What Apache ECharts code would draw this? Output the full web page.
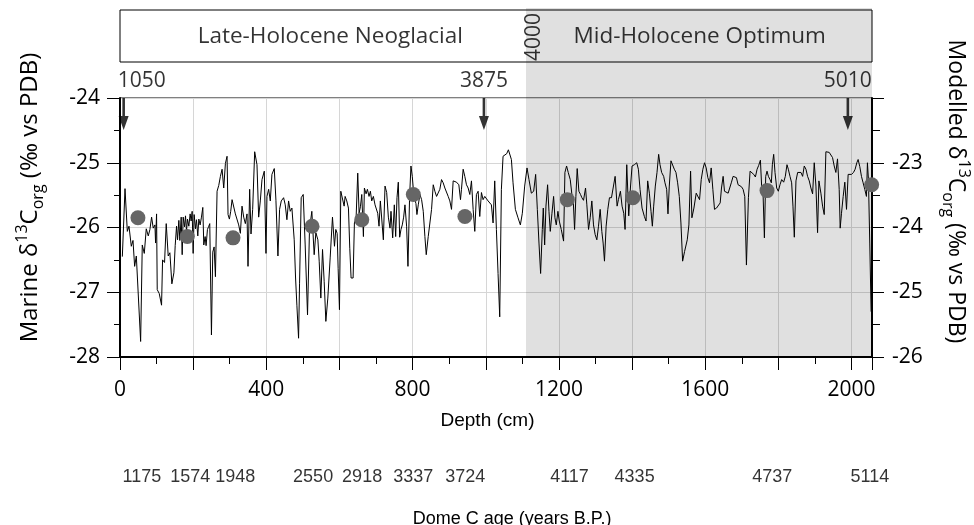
<!DOCTYPE html>
<html><head><meta charset="utf-8">
<script src="https://cdn.jsdelivr.net/npm/echarts@6/dist/echarts.min.js"></script>
<style>html,body{margin:0;padding:0;background:#fff}#c{width:974px;height:525px}</style>
</head><body><div id="c"></div>
<script>
// ---- data ----
const marineDepth = [6.4,13.7,20.0,24.6,30.9,35.5,40.0,44.6,50.0,56.4,60.9,66.4,71.8,77.3,81.8,86.4,90.9,95.5,97.3,100.0,101.8,107.3,113.6,116.4,121.8,126.4,131.8,136.4,141.8,147.3,150.9,154.6,157.3,160.9,163.6,167.3,170.0,172.7,176.4,179.1,181.8,184.5,188.2,191.8,194.5,197.3,200.0,202.7,206.4,209.1,212.7,215.5,219.1,222.7,226.4,229.1,232.7,235.4,239.1,242.7,245.4,250.0,253.6,257.3,260.9,265.4,270.0,274.5,279.1,283.6,288.2,292.7,295.4,299.1,302.7,306.4,311.8,315.4,320.0,324.5,329.1,333.6,338.2,342.7,347.3,350.0,354.5,358.2,362.7,368.2,374.5,379.1,383.6,388.2,394.5,399.1,401.8,406.4,410.9,415.4,421.8,426.3,431.8,436.3,440.9,447.3,451.8,456.3,460.9,465.4,470.0,476.3,480.0,483.6,488.2,490.9,495.4,500.9,506.3,512.7,518.1,524.5,530.9,
535.5,541.0,544.6,549.1,553.7,558.2,562.8,568.2,574.6,580.9,586.4,590.0,593.7,596.4,600.0,603.7,608.2,612.8,615.5,620.0,624.6,628.2,631.8,637.3,640.9,645.5,650.0,653.7,657.3,661.0,665.5,668.2,672.8,676.4,680.9,684.6,688.2,692.7,697.3,700.9,704.6,708.2,711.8,716.4,720.0,724.6,729.1,733.7,738.2,740.9,745.5,750.0,753.7,757.3,760.9,764.6,768.2,771.8,775.5,779.1,783.6,787.3,791.8,795.5,799.1,803.6,809.1,811.8,815.5,820.0,824.6,829.1,833.6,837.3,842.7,847.3,851.8,856.4,860.9,865.5,870.0,874.5,879.1,883.6,888.2,892.7,897.3,901.8,906.4,910.9,915.4,920.0,926.4,930.9,933.6,938.2,942.7,947.3,951.8,956.4,960.9,965.5,970.0,974.5,979.1,983.6,988.2,992.7,997.3,1001.8,1006.4,1010.9,1015.4,1020.0,1024.5,1029.1,1033.6,1038.2,1042.7,
1047.3,1051.9,1057.3,1061.9,1066.4,1070.1,1074.6,1081.0,1088.2,1094.6,1100.0,1106.4,1112.8,1118.2,1124.6,1131.0,1136.4,1141.0,1145.5,1150.0,1154.6,1157.3,1161.0,1164.6,1169.1,1172.8,1176.4,1181.0,1185.5,1189.1,1192.8,1197.3,1201.0,1206.4,1212.8,1216.4,1221.0,1225.5,1231.0,1235.5,1239.1,1242.8,1246.4,1250.0,1254.6,1259.1,1262.8,1267.3,1272.8,1276.4,1281.0,1285.5,1290.0,1294.6,1299.1,1303.7,1308.2,1312.8,1317.3,1320.9,1324.6,1329.1,1333.7,1338.2,1343.7,1349.1,1353.7,1359.1,1362.7,1368.2,1372.7,1377.3,1380.9,1385.5,1388.2,1390.9,1395.5,1400.0,1406.4,1412.8,1417.3,1421.8,1427.3,1433.7,1438.2,1442.7,1447.3,1451.8,1455.5,1459.1,1463.6,1468.2,1472.7,1476.4,1480.9,1486.4,1490.0,1494.6,1498.2,1501.8,1506.4,1510.9,1515.5,1520.0,1524.6,1529.1,1533.6,1538.2,
1543.6,1550.9,1555.4,1560.0,1563.6,1569.1,1575.4,1580.0,1584.5,1589.1,1593.6,1598.2,1602.7,1607.2,1611.8,1616.3,1620.9,1625.4,1630.9,1636.3,1640.9,1644.5,1649.0,1652.7,1657.2,1662.7,1667.2,1671.8,1676.3,1680.9,1685.4,1689.9,1694.5,1699.0,1703.6,1708.1,1712.7,1718.1,1722.7,1728.1,1732.7,1737.2,1741.8,1746.3,1750.9,1754.5,1758.1,1761.8,1765.4,1769.0,1772.7,1777.2,1780.8,1783.6,1787.2,1790.8,1795.4,1799.9,1804.4,1809.0,1814.5,1819.0,1823.6,1827.2,1831.8,1836.3,1839.9,1843.6,1848.1,1852.7,1857.2,1861.8,1866.3,1870.8,1875.4,1879.9,1884.5,1889.0,1893.6,1898.1,1902.7,1907.2,1910.8,1916.3,1920.9,1925.4,1929.9,1934.5,1939.0,1943.6,1948.1,1952.7,1957.2,1961.7,1966.3,1969.0,1972.6,1977.2,1981.7,1986.3,1990.8,1995.4,1999.9,2005.4,2009.9,2014.5,2018.1,2022.6,2027.2,2031.7,2036.3,2040.8,2043.5,2046.3,2049.9,2053.6];
const marineD13C = [-26.45,-25.40,-26.06,-25.98,-26.29,-26.20,-26.60,-26.44,-26.44,-27.76,-26.27,-26.40,-26.02,-26.13,-26.03,-25.84,-26.01,-25.96,-26.24,-25.79,-26.96,-27.02,-27.20,-26.50,-26.54,-25.94,-26.44,-26.39,-26.87,-26.70,-26.28,-25.98,-26.19,-25.89,-26.20,-25.84,-26.42,-25.84,-25.99,-25.82,-26.06,-25.87,-25.98,-25.79,-25.90,-25.75,-26.40,-25.80,-26.02,-25.88,-26.13,-25.87,-25.96,-25.84,-25.69,-26.27,-26.14,-26.28,-26.03,-25.98,-25.94,-27.66,-26.38,-26.30,-26.76,-25.44,-25.35,-25.21,-25.10,-25.39,-25.01,-24.90,-25.80,-25.87,-25.75,-25.57,-25.59,-25.79,-25.82,-25.96,-26.09,-25.67,-25.84,-25.94,-25.79,-26.60,-25.41,-26.10,-25.72,-24.83,-25.03,-25.84,-25.59,-25.26,-25.13,-26.40,-25.52,-25.41,-25.59,-25.18,-25.09,-25.58,-26.44,-25.72,-25.59,-25.54,-25.65,-25.88,-25.59,-25.75,-25.70,-26.19,-26.78,-27.20,-27.71,-26.86,-25.54,-25.49,-26.27,-27.35,-26.03,-25.75,-26.42,
-26.08,-26.19,-26.52,-27.09,-26.34,-26.83,-27.45,-27.09,-26.47,-25.84,-26.29,-26.03,-26.09,-26.63,-27.27,-25.44,-25.46,-25.67,-25.52,-25.59,-25.70,-26.32,-26.78,-26.78,-25.93,-25.85,-25.16,-25.78,-25.68,-25.49,-26.14,-25.39,-25.48,-25.41,-25.52,-25.44,-25.59,-25.52,-25.65,-25.68,-25.78,-25.98,-25.59,-25.57,-26.19,-25.36,-25.46,-25.84,-26.01,-25.75,-26.16,-25.65,-26.14,-25.54,-25.30,-26.15,-26.03,-25.96,-25.84,-25.65,-25.98,-26.60,-25.52,-25.05,-25.21,-25.52,-25.63,-25.80,-25.65,-25.49,-25.57,-25.75,-26.14,-26.42,-26.14,-26.16,-25.72,-25.34,-25.44,-25.52,-25.54,-25.41,-25.26,-25.31,-25.39,-25.41,-25.52,-25.59,-25.72,-25.28,-25.31,-25.30,-25.34,-25.57,-25.41,-25.10,-25.21,-25.34,-25.39,-25.49,-25.28,-25.72,-26.06,-25.49,-25.44,-25.83,-25.46,-25.57,-25.52,-25.54,-25.59,-25.57,-25.65,-25.93,-25.28,-26.03,-26.71,-27.38,-25.41,
-24.90,-24.87,-24.86,-24.80,-24.77,-24.95,-25.31,-25.72,-25.85,-25.96,-25.78,-25.36,-25.08,-25.26,-25.47,-25.44,-25.18,-25.72,-26.24,-26.71,-26.03,-25.70,-26.27,-25.67,-25.34,-25.75,-26.06,-25.78,-25.52,-25.85,-25.96,-25.75,-25.90,-26.03,-26.21,-25.15,-25.05,-25.15,-25.26,-25.49,-25.57,-26.03,-25.52,-25.09,-25.44,-25.49,-25.54,-25.58,-25.39,-25.65,-26.03,-25.85,-25.59,-25.96,-26.11,-26.19,-25.98,-25.72,-26.06,-26.24,-26.52,-25.98,-25.72,-25.54,-25.54,-25.54,-25.21,-25.67,-25.57,-25.44,-25.67,-25.78,-26.03,-25.03,-25.00,-25.82,-25.39,-25.05,-25.03,-25.00,-25.10,-25.41,-25.70,-25.83,-25.90,-25.28,-25.47,-25.75,-25.98,-25.67,-25.36,-25.15,-24.87,-25.03,-25.15,-25.21,-25.31,-25.41,-25.79,-25.36,-24.97,-25.00,-25.10,-25.15,-25.31,-25.52,-25.93,-26.52,
-26.37,-26.19,-25.96,-25.13,-25.85,-25.70,-25.47,-25.44,-25.57,-25.26,-25.10,-25.00,-25.08,-25.23,-25.31,-25.08,-25.41,-25.72,-25.70,-25.68,-25.62,-25.39,-25.21,-25.44,-25.44,-25.47,-25.44,-25.30,-25.21,-25.18,-25.23,-25.34,-25.36,-25.37,-25.41,-25.52,-26.58,-25.54,-25.13,-25.13,-25.18,-25.22,-25.10,-25.04,-24.96,-25.39,-25.47,-26.16,-25.21,-25.13,-25.21,-25.26,-25.31,-25.03,-24.87,-25.15,-25.39,-25.44,-25.34,-25.26,-25.30,-25.21,-25.03,-25.10,-25.21,-25.31,-25.67,-26.15,-25.28,-25.15,-25.13,-25.15,-25.21,-25.05,-25.10,-25.21,-25.28,-25.39,-25.48,-25.00,-25.36,-26.08,-25.28,-25.47,-25.67,-25.80,-24.83,-24.83,-24.84,-24.87,-24.92,-25.05,-25.15,-24.94,-25.41,-26.01,-25.78,-25.52,-25.30,-25.72,-25.18,-25.21,-25.18,-25.15,-25.10,-25.00,-24.95,-25.06,-25.21,-25.31,-25.41,-25.52,-25.00,-25.26,-26.24,-27.30];

const modelDepth = [49, 184, 309, 525, 661, 802, 943, 1223, 1402, 1769, 2055];
const modelD13C = [-23.85, -24.14, -24.16, -23.98, -23.88, -23.49, -23.83, -23.57, -23.54, -23.43, -23.34];

const arrowDepth = [10, 995, 1990];
const arrowAge = ['1050', '3875', '5010'];

const ageDepth = [60, 192, 315, 528, 662, 802, 944, 1229, 1407, 1783, 2050];
const ageLabels = ['1175', '1574', '1948', '2550', '2918', '3337', '3724', '4117', '4335', '4737', '5114'];

const periodNames = ['Late-Holocene Neoglacial', 'Mid-Holocene Optimum'];
const periodCenters = [575, 1585];
const boundaryDepth = 1110;
const boundaryAge = '4000';

const depthMin = 0, depthMax = 2056;

// ---- chart ----
const FONT = 'Open Sans';
const HELV = 'Liberation Sans, Arial, Helvetica, sans-serif';
const chart = echarts.init(document.getElementById('c'));
const richName = (size) => ({
  n: {fontFamily: FONT, fontSize: size, lineHeight: 32, color: '#000'},
  s: {fontFamily: FONT, fontSize: Math.round(size * 0.68), lineHeight: 16, verticalAlign: 'top', color: '#000'},
  b: {fontFamily: FONT, fontSize: Math.round(size * 0.68), lineHeight: 16, verticalAlign: 'bottom', color: '#000'}
});

chart.setOption({
  animation: false,
  backgroundColor: '#fff',
  grid: [
    {left: 120, top: 98, width: 752, height: 259, show: true, borderColor: '#000', borderWidth: 1, backgroundColor: 'transparent', outerBoundsMode: 'none', containLabel: false},
    {left: 120, top: 8, width: 752, height: 90, outerBoundsMode: 'none', containLabel: false},
    {left: 120, top: 467, width: 752, height: 20, outerBoundsMode: 'none', containLabel: false}
  ],
  xAxis: [
    {
      type: 'value', gridIndex: 0, min: depthMin, max: depthMax, interval: 200,
      axisLine: {show: true, onZero: false, lineStyle: {color: '#000', width: 2}},
      axisTick: {show: true, length: 13, lineStyle: {color: '#000', width: 1}},
      minorTick: {show: true, splitNumber: 2, length: 7, lineStyle: {color: '#000', width: 1}},
      splitLine: {show: true, lineStyle: {color: '#d6d6d6', width: 1}},
      axisLabel: {margin: 23, fontFamily: FONT, fontSize: 21, color: '#000',
        formatter: v => (v % 400 === 0 ? String(v) : '')},
      name: 'Depth (cm)', nameLocation: 'middle', nameGap: 54,
      nameTextStyle: {fontFamily: HELV, fontSize: 19, color: '#000', padding: [0, 17, 0, 0]}
    },
    {type: 'value', gridIndex: 1, min: depthMin, max: depthMax, show: false},
    {
      type: 'value', gridIndex: 2, min: depthMin, max: depthMax,
      axisLine: {show: false}, axisTick: {show: false}, axisLabel: {show: false}, splitLine: {show: false},
      name: 'Dome C age (years B.P.)', nameLocation: 'middle', nameGap: 23,
      nameTextStyle: {fontFamily: HELV, fontSize: 18, color: '#000', padding: [0, 0, 0, 32]}
    }
  ],
  yAxis: [
    {
      type: 'value', gridIndex: 0, min: -28, max: -24, interval: 1,
      axisLine: {show: true, onZero: false, lineStyle: {color: '#000', width: 2}},
      axisTick: {show: true, length: 13, lineStyle: {color: '#000', width: 1}},
      minorTick: {show: true, splitNumber: 2, length: 6, lineStyle: {color: '#000', width: 1}},
      splitLine: {show: true, lineStyle: {color: '#d6d6d6', width: 1}},
      axisLabel: {margin: 20, fontFamily: FONT, fontSize: 21, color: '#000'},
      name: '{n|Marine δ}{s|13}{n|C}{b|org}{n| (‰ vs PDB)}',
      nameLocation: 'middle', nameGap: 74,
      nameTextStyle: {padding: [0, 0, 0, 60], rich: richName(24)}
    },
    {
      type: 'value', gridIndex: 0, position: 'right', min: -26, max: -22, interval: 1,
      axisLine: {show: true, onZero: false, lineStyle: {color: '#000', width: 2}},
      axisTick: {show: true, length: 12, lineStyle: {color: '#000', width: 1}},
      minorTick: {show: true, splitNumber: 2, length: 8, lineStyle: {color: '#000', width: 1}},
      splitLine: {show: false},
      axisLabel: {margin: 20, fontFamily: FONT, fontSize: 21, color: '#000',
        formatter: v => (v === -22 ? '' : String(v))},
      name: '{n|Modelled δ}{s|13}{n|C}{b|org}{n| (‰ vs PDB)}',
      nameLocation: 'middle', nameGap: 68, nameRotate: -90,
      nameTextStyle: {padding: [0, 72, 0, 0], rich: richName(23)}
    },
    {type: 'value', gridIndex: 1, min: 0, max: 90, show: false},
    {type: 'value', gridIndex: 2, min: 0, max: 1, show: false}
  ],
  series: [
    {
      name: 'Marine', type: 'line', xAxisIndex: 0, yAxisIndex: 0,
      data: marineDepth.map((d, i) => [d, marineD13C[i]]),
      showSymbol: false, symbol: 'none',
      lineStyle: {color: '#000', width: 1},
      markArea: {
        silent: true,
        itemStyle: {color: 'rgba(0,0,0,0.12)'},
        data: [[{xAxis: boundaryDepth}, {xAxis: depthMax}]]
      }
    },
    {
      name: 'Modelled', type: 'scatter', xAxisIndex: 0, yAxisIndex: 1,
      data: modelDepth.map((d, i) => [d, modelD13C[i]]),
      symbolSize: 15, itemStyle: {color: '#666', opacity: 1}, z: 5
    },
    {
      name: 'arrows', type: 'scatter', xAxisIndex: 0, yAxisIndex: 0,
      data: arrowDepth.map((d, i) => (i === 0
        ? {value: [d, -24], label: {align: 'left', offset: [-6, 0]}}
        : {value: [d, -24]})),
      symbol: 'path://M3.2,0 L5.8,0 L5.8,18 L9.5,18 L4.5,32 L-0.5,18 L3.2,18 Z',
      symbolSize: [10, 32], symbolOffset: [0, '50%'],
      itemStyle: {color: '#000'}, z: 6,
      label: {
        show: true, position: 'top', distance: 6, fontFamily: FONT, fontSize: 21, color: '#000',
        formatter: p => arrowAge[p.dataIndex]
      }
    },
    {
      name: 'header', type: 'line', xAxisIndex: 1, yAxisIndex: 2, data: [],
      markArea: {
        silent: true,
        data: [
          [{xAxis: boundaryDepth, yAxis: 0, itemStyle: {color: 'rgba(0,0,0,0.12)', borderWidth: 0}}, {xAxis: depthMax, yAxis: 90}],
          [{xAxis: depthMin, yAxis: 36, itemStyle: {color: 'rgba(0,0,0,0)', borderColor: '#000', borderWidth: 1}}, {xAxis: depthMax, yAxis: 88}]
        ]
      }
    },
    {
      name: 'periods', type: 'scatter', xAxisIndex: 1, yAxisIndex: 2,
      data: periodCenters.map(d => [d, 61]),
      symbolSize: 1, itemStyle: {color: 'rgba(0,0,0,0)'},
      label: {show: true, position: 'inside', fontFamily: FONT, fontSize: 22.5, color: '#000',
        formatter: p => periodNames[p.dataIndex]}
    },
    {
      name: 'boundary', type: 'scatter', xAxisIndex: 1, yAxisIndex: 2,
      data: [[boundaryDepth + 22, 61]],
      symbolSize: 1, itemStyle: {color: 'rgba(0,0,0,0)'},
      label: {show: true, position: 'inside', rotate: 90, fontFamily: FONT, fontSize: 21, color: '#000',
        formatter: () => boundaryAge}
    },
    {
      name: 'ages', type: 'scatter', xAxisIndex: 2, yAxisIndex: 3,
      data: ageDepth.map(d => [d, 0.5]),
      symbolSize: 1, itemStyle: {color: 'rgba(0,0,0,0)'},
      label: {show: true, position: 'inside', fontFamily: HELV, fontSize: 18, color: '#000',
        formatter: p => ageLabels[p.dataIndex]}
    }
  ]
});
</script>
</body></html>
